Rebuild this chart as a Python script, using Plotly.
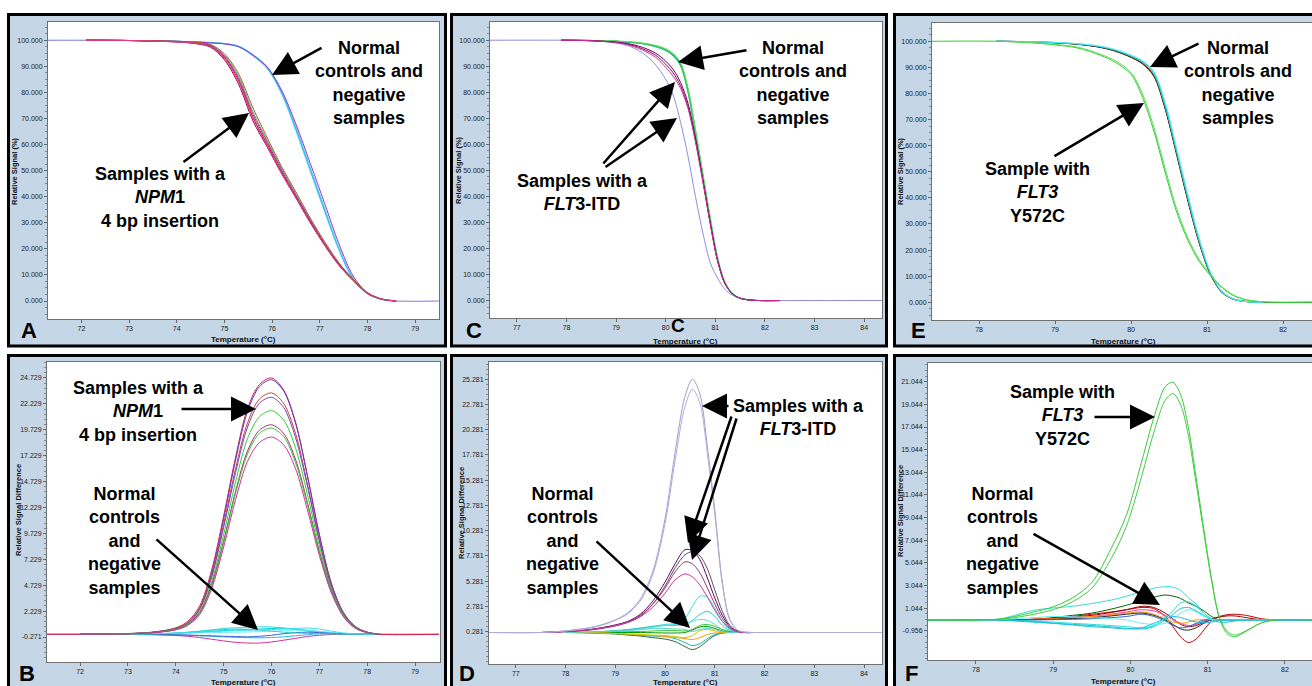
import plotly.graph_objects as go

W, H = 1312, 686

# ======================= DATA =======================
# ---- Panel A: normalized melting curves (Relative Signal %), NPM1 assay
A_temp = [72.1, 73.0, 73.8, 74.3, 74.7, 75.0, 75.3, 75.6, 75.9, 76.2, 76.5, 76.8, 77.1, 77.4, 77.7, 78.0, 78.3, 78.6]
A_ref_temp = [71.3, 72.1, 73.0, 73.8, 74.3, 74.7, 75.0, 75.3, 75.6, 75.9, 76.2, 76.5, 76.8, 77.1, 77.4, 77.7, 78.0, 78.3, 78.6, 79.5]
A_ref = [100, 100, 99.9, 99.7, 99.4, 99.1, 98.7, 97.7, 94.4, 89.7, 80.2, 66.3, 50.8, 35.3, 20.3, 8.7, 2.9, 0.6, 0, 0]
A_normal = [
    [100, 99.9, 99.7, 99.4, 99.1, 98.7, 97.6, 94.3, 89.5, 80.0, 66.0, 50.5, 35.0, 20.0, 8.5, 2.8, 0.6, 0],
    [100, 99.9, 99.7, 99.5, 99.2, 98.8, 97.8, 94.6, 89.9, 80.6, 66.8, 51.3, 35.8, 20.6, 8.9, 3.0, 0.7, 0],
    [100, 99.9, 99.7, 99.4, 99.0, 98.6, 97.4, 94.0, 89.0, 79.4, 65.3, 49.8, 34.4, 19.6, 8.3, 2.7, 0.6, 0],
    [100, 99.9, 99.7, 99.4, 99.0, 98.6, 97.5, 94.2, 89.6, 80.8, 67.8, 52.8, 37.5, 22.0, 9.6, 3.2, 0.7, 0],
]
A_npm1 = [
    [100, 99.9, 99.6, 99.1, 97.9, 93.5, 84.5, 70.5, 60.0, 49.5, 40.0, 30.5, 21.8, 14.0, 8.0, 3.0, 0.7, 0],
    [100, 99.9, 99.5, 98.9, 97.4, 92.5, 83.0, 69.0, 59.0, 48.8, 39.5, 30.0, 21.4, 13.7, 7.8, 2.9, 0.7, 0],
    [100, 99.9, 99.6, 99.2, 98.2, 94.3, 86.0, 72.5, 61.5, 50.8, 41.0, 31.3, 22.3, 14.4, 8.2, 3.1, 0.7, 0],
    [100, 99.9, 99.6, 99.1, 98.0, 93.8, 85.2, 71.5, 60.8, 50.2, 40.5, 30.9, 22.0, 14.2, 8.1, 3.0, 0.7, 0],
    [100, 99.9, 99.7, 99.3, 98.4, 94.8, 87.0, 74.0, 62.5, 51.5, 41.8, 31.8, 22.8, 14.7, 8.4, 3.2, 0.8, 0],
    [100, 99.9, 99.5, 99.0, 97.6, 93.0, 83.8, 70.0, 59.5, 49.0, 39.6, 30.2, 21.6, 13.8, 7.9, 2.9, 0.7, 0],
]

# ---- Panel B: difference curves, NPM1 assay
B_temp = [71.3, 72.0, 73.0, 73.5, 74.0, 74.25, 74.5, 74.75, 75.0, 75.25, 75.5, 75.75, 76.0, 76.25, 76.5, 76.75, 77.0, 77.25, 77.5, 77.75, 78.0, 78.25, 79.5]
B_npm1 = [
    [0, 0, 0.07, 0.2, 0.62, 1.24, 2.72, 6.2, 11.4, 17.1, 21.8, 24.1, 24.73, 23.6, 20.5, 15.3, 9.6, 4.9, 2.1, 0.74, 0.2, 0, 0],
    [None, 0, 0.06, 0.18, 0.55, 1.1, 2.5, 5.9, 11.1, 16.8, 21.5, 23.9, 24.56, 23.5, 20.4, 15.3, 9.6, 4.9, 2.1, 0.74, 0.2, 0, None],
    [None, 0, 0.06, 0.17, 0.55, 1.1, 2.5, 5.7, 10.6, 16.0, 20.4, 22.7, 23.28, 22.3, 19.4, 14.5, 9.1, 4.7, 2.0, 0.7, 0.19, 0, None],
    [None, 0, 0.05, 0.16, 0.5, 1.05, 2.4, 5.5, 10.3, 15.6, 20.0, 22.3, 22.86, 21.9, 19.0, 14.3, 9.0, 4.6, 2.0, 0.7, 0.18, 0, None],
    [None, 0, 0.05, 0.15, 0.5, 1.0, 2.2, 5.1, 9.6, 14.7, 18.9, 21.0, 21.57, 20.7, 18.0, 13.5, 8.5, 4.4, 1.9, 0.66, 0.17, 0, None],
    [None, 0, 0.05, 0.15, 0.48, 0.95, 2.1, 4.8, 9.0, 13.8, 17.7, 19.7, 20.21, 19.4, 16.9, 12.7, 8.0, 4.2, 1.8, 0.62, 0.16, 0, None],
    [None, 0, 0.05, 0.14, 0.46, 0.92, 2.0, 4.6, 8.8, 13.6, 17.4, 19.4, 19.89, 19.1, 16.6, 12.5, 7.9, 4.1, 1.8, 0.6, 0.16, 0, None],
    [None, 0, 0.04, 0.13, 0.42, 0.85, 1.9, 4.4, 8.4, 13.0, 16.7, 18.5, 19.02, 18.3, 16.0, 12.0, 7.6, 4.0, 1.7, 0.58, 0.15, 0, None],
]
B_normal = [
    [None, 0, 0.02, 0.05, 0.12, 0.2, 0.3, 0.42, 0.55, 0.62, 0.68, 0.72, 0.7, 0.6, 0.45, 0.3, 0.18, 0.1, 0.05, 0.02, 0, 0, None],
    [None, 0, 0.01, 0.03, 0.08, 0.14, 0.2, 0.28, 0.35, 0.4, 0.45, 0.5, 0.55, 0.58, 0.5, 0.38, 0.25, 0.14, 0.06, 0.02, 0, 0, None],
    [None, 0, 0, 0.02, 0.05, 0.08, 0.12, 0.15, 0.18, 0.2, 0.22, 0.25, 0.3, 0.35, 0.4, 0.38, 0.28, 0.16, 0.08, 0.03, 0, 0, None],
    [None, 0, -0.01, -0.03, -0.07, -0.1, -0.15, -0.2, -0.25, -0.3, -0.33, -0.35, -0.32, -0.25, -0.15, -0.05, 0.05, 0.08, 0.05, 0.02, 0, 0, None],
    [0, 0, -0.02, -0.05, -0.12, -0.2, -0.32, -0.48, -0.65, -0.78, -0.85, -0.85, -0.75, -0.58, -0.4, -0.22, -0.1, -0.03, 0, 0, 0, 0, 0],
    [None, 0, 0, -0.02, -0.05, -0.08, -0.12, -0.15, -0.2, -0.22, -0.25, -0.2, -0.1, 0.05, 0.15, 0.2, 0.15, 0.08, 0.03, 0, 0, 0, None],
    [None, 0, 0.01, 0.03, 0.1, 0.18, 0.28, 0.38, 0.45, 0.5, 0.48, 0.4, 0.3, 0.2, 0.12, 0.08, 0.05, 0.03, 0.01, 0, 0, 0, None],
    [None, 0, 0.02, 0.05, 0.1, 0.15, 0.2, 0.25, 0.3, 0.35, 0.38, 0.42, 0.45, 0.5, 0.55, 0.6, 0.5, 0.3, 0.12, 0.04, 0, 0, None],
]

# ---- Panel C: normalized melting curves, FLT3-ITD assay
C_temp = [76.46, 77.9, 78.5, 79.0, 79.3, 79.6, 79.8, 80.0, 80.15, 80.3, 80.45, 80.6, 80.75, 80.9, 81.05, 81.2, 81.35, 81.5, 81.7, 81.9, 82.3, 84.36]
C_normal = [
    [None, 100, 99.9, 99.6, 99.2, 98.5, 97.6, 96.2, 94.2, 90.5, 80.5, 64.5, 47.5, 30.5, 15.5, 6.5, 2.6, 0.9, 0.2, 0, 0, None],
    [None, 100, 99.9, 99.6, 99.3, 98.6, 97.8, 96.5, 94.6, 91.0, 81.2, 65.3, 48.3, 31.2, 16.0, 6.8, 2.7, 0.9, 0.2, 0, 0, None],
    [None, 100, 99.9, 99.6, 99.2, 98.6, 97.7, 96.3, 94.4, 90.8, 81.0, 65.0, 48.0, 31.0, 15.8, 6.6, 2.6, 0.9, 0.2, 0, 0, None],
    [None, 100, 99.9, 99.5, 99.1, 98.4, 97.4, 96.0, 94.0, 90.0, 79.8, 63.8, 46.8, 29.8, 15.1, 6.3, 2.5, 0.9, 0.2, 0, 0, None],
    [None, 100, 99.9, 99.6, 99.2, 98.5, 97.6, 96.2, 94.1, 90.3, 80.2, 64.0, 47.0, 30.0, 15.2, 6.4, 2.5, 0.9, 0.2, 0, 0, None],
    [None, 100, 99.9, 99.7, 99.4, 98.8, 98.0, 96.8, 95.0, 91.5, 81.8, 66.0, 49.0, 32.0, 16.4, 7.0, 2.8, 1.0, 0.2, 0, 0, None],
]
C_itd = [
    [None, 100, 99.8, 99.2, 98.2, 96.2, 94.2, 90.8, 87.5, 82.5, 74.5, 61.5, 46.0, 29.5, 15.0, 6.3, 2.5, 0.9, 0.2, 0, 0, None],
    [None, 100, 99.8, 99.3, 98.5, 96.8, 95.0, 92.0, 88.8, 83.8, 75.8, 62.5, 46.5, 30.0, 15.3, 6.4, 2.5, 0.9, 0.2, 0, 0, None],
    [None, 100, 99.8, 99.1, 97.9, 95.6, 93.4, 89.6, 86.2, 81.5, 73.8, 61.0, 45.6, 29.2, 14.8, 6.2, 2.4, 0.9, 0.2, 0, 0, None],
]
C_itd_low = [100, 100, 99.8, 98.9, 97.5, 94.2, 90.5, 85.0, 79.0, 68.5, 55.5, 40.0, 26.0, 14.5, 8.5, 4.2, 2.0, 0.8, 0.2, 0, 0, 0]

# ---- Panel D: difference curves, FLT3-ITD assay
D_temp = [76.46, 77.5, 78.0, 78.5, 78.75, 79.0, 79.25, 79.5, 79.75, 80.0, 80.2, 80.4, 80.55, 80.7, 80.85, 81.0, 81.15, 81.3, 81.45, 81.6, 81.8, 82.2, 84.36]
D_itd_high = [
    [0.2, 0.2, 0.37, 0.7, 1.0, 1.45, 2.15, 3.5, 6.2, 11.5, 18.0, 23.6, 25.28, 23.8, 18.6, 12.3, 5.2, 1.5, 0.45, 0.25, 0.2, 0.2, 0.2],
    [0.2, 0.2, 0.35, 0.65, 0.95, 1.4, 2.05, 3.3, 5.9, 11.0, 17.2, 22.6, 24.29, 22.9, 17.9, 11.8, 5.0, 1.45, 0.45, 0.25, 0.2, 0.2, 0.2],
]
D_itd = [
    [None, 0.2, 0.3, 0.5, 0.7, 0.95, 1.3, 2.0, 3.3, 5.2, 7.0, 8.4, 8.3, 7.4, 5.6, 3.6, 1.9, 0.8, 0.35, 0.2, 0.2, 0.2, None],
    [None, 0.2, 0.28, 0.45, 0.62, 0.85, 1.2, 1.8, 3.0, 4.8, 6.6, 7.9, 8.2, 7.8, 6.5, 4.4, 2.3, 0.9, 0.35, 0.2, 0.2, 0.2, None],
    [None, 0.2, 0.3, 0.5, 0.68, 0.92, 1.25, 1.9, 3.0, 4.6, 6.2, 7.2, 7.0, 6.1, 4.6, 3.0, 1.6, 0.7, 0.3, 0.2, 0.2, 0.2, None],
    [None, 0.2, 0.3, 0.48, 0.65, 0.88, 1.2, 1.75, 2.7, 4.1, 5.4, 6.0, 5.7, 4.9, 3.7, 2.4, 1.3, 0.6, 0.28, 0.2, 0.2, 0.2, 0.2],
]
D_normal = [
    [None, None, 0.2, 0.25, 0.3, 0.35, 0.45, 0.6, 0.8, 1.0, 1.1, 1.6, 2.8, 3.8, 3.7, 2.6, 1.3, 0.5, 0.25, 0.2, 0.2, 0.2, None],
    [None, None, 0.2, 0.25, 0.3, 0.4, 0.5, 0.65, 0.8, 0.9, 0.9, 1.0, 1.4, 2.0, 2.3, 1.8, 0.9, 0.4, 0.22, 0.2, 0.2, 0.2, None],
    [None, None, 0.2, 0.22, 0.25, 0.3, 0.4, 0.5, 0.7, 0.9, 1.0, 1.1, 1.3, 1.5, 1.4, 1.0, 0.5, 0.3, 0.2, 0.2, 0.2, 0.2, None],
    [None, None, 0.2, 0.2, 0.22, 0.25, 0.28, 0.3, 0.35, 0.4, 0.4, 0.35, 0.5, 0.9, 1.0, 0.8, 0.5, 0.3, 0.2, 0.2, 0.2, 0.2, None],
    [None, None, 0.2, 0.2, 0.2, 0.2, 0.2, 0.2, 0.18, 0.15, 0.15, 0.2, 0.45, 0.75, 0.8, 0.6, 0.35, 0.22, 0.2, 0.2, 0.2, 0.2, None],
    [None, None, 0.2, 0.15, 0.1, 0.05, -0.05, -0.15, -0.3, -0.45, -0.7, -1.2, -1.5, -1.2, -0.6, -0.1, 0.15, 0.2, 0.2, 0.2, 0.2, 0.2, None],
    [None, None, 0.2, 0.18, 0.15, 0.1, 0.0, -0.1, -0.15, -0.2, -0.4, -0.8, -1.1, -0.9, -0.4, 0.0, 0.15, 0.2, 0.2, 0.2, 0.2, 0.2, None],
    [None, None, 0.2, 0.18, 0.15, 0.1, 0.05, 0.0, -0.1, -0.2, -0.3, -0.4, -0.5, -0.3, 0.0, 0.15, 0.2, 0.2, 0.2, 0.2, 0.2, 0.2, None],
    [None, None, 0.2, 0.2, 0.15, 0.1, 0.05, 0.0, -0.05, -0.1, -0.2, -0.3, -0.1, 0.4, 0.5, 0.35, 0.25, 0.2, 0.2, 0.2, 0.2, 0.2, None],
    [None, None, 0.2, 0.25, 0.3, 0.35, 0.4, 0.5, 0.6, 0.6, 0.55, 0.5, 0.3, 0.5, 0.6, 0.5, 0.3, 0.2, 0.2, 0.2, 0.2, 0.2, None],
]

# ---- Panel E: normalized melting curves, FLT3 Y572C assay
E_temp = [77.38, 78.23, 78.7, 79.0, 79.3, 79.6, 79.8, 80.0, 80.15, 80.3, 80.45, 80.6, 80.75, 80.9, 81.05, 81.2, 81.35, 81.5, 81.75, 82.38]
E_normal = [
    [None, 100, 99.8, 99.4, 98.9, 97.7, 96.2, 93.9, 91.5, 86.8, 74.2, 56.8, 38.8, 22.5, 10.4, 3.7, 1.1, 0.3, 0, 0],
    [None, 100, 99.8, 99.4, 98.8, 97.6, 96.1, 93.8, 91.3, 86.5, 73.8, 56.3, 38.4, 22.2, 10.2, 3.6, 1.1, 0.3, 0, None],
    [None, 100, 99.8, 99.5, 98.9, 97.8, 96.3, 94.0, 91.7, 87.0, 74.5, 57.0, 39.0, 22.8, 10.6, 3.9, 1.3, 0.4, 0, None],
    [None, 100, 99.8, 99.5, 99.0, 97.9, 96.5, 94.3, 92.0, 87.5, 75.0, 57.5, 39.5, 23.0, 10.7, 3.8, 1.2, 0.3, 0, None],
    [None, 100, 99.8, 99.5, 99.0, 98.0, 96.6, 94.5, 92.3, 88.0, 75.8, 58.3, 40.3, 23.7, 11.0, 3.9, 1.2, 0.3, 0, None],
    [None, 100, 99.8, 99.6, 99.1, 98.1, 96.8, 94.7, 92.6, 88.4, 76.5, 59.0, 41.0, 24.2, 11.3, 4.0, 1.2, 0.3, 0, None],
]
E_y572c = [
    [100, 100, 99.4, 98.6, 97.4, 94.6, 91.8, 87.3, 78.5, 65.5, 49.5, 34.5, 23.5, 15.5, 10.0, 5.5, 2.5, 1.0, 0.1, 0],
    [None, 100, 99.5, 98.8, 97.7, 95.0, 92.4, 88.0, 79.8, 67.0, 51.0, 35.8, 24.5, 16.2, 10.4, 5.8, 2.7, 1.1, 0.1, None],
]

# ---- Panel F: difference curves, FLT3 Y572C assay
F_temp = [77.38, 78.25, 78.5, 78.75, 79.0, 79.25, 79.5, 79.75, 79.95, 80.15, 80.3, 80.45, 80.55, 80.65, 80.75, 80.85, 80.95, 81.05, 81.15, 81.25, 81.35, 81.5, 81.7, 81.9, 82.38]
F_y572c = [
    [0, 0.05, 0.3, 0.7, 1.15, 1.95, 3.3, 6.3, 9.3, 14.1, 17.8, 20.6, 21.0, 19.9, 17.0, 12.6, 8.0, 3.6, 0.2, -1.2, -1.5, -1.0, -0.25, 0, 0],
    [0, 0.03, 0.2, 0.5, 0.9, 1.6, 2.8, 5.4, 8.3, 12.8, 16.5, 19.4, 20.0, 19.0, 16.3, 12.1, 7.7, 3.5, 0.3, -1.0, -1.35, -0.95, -0.25, 0, 0],
]
F_normal = [
    [0, 0, 0, 0.05, 0.2, 0.4, 0.6, 0.95, 1.3, 1.7, 2.0, 2.2, 2.1, 1.9, 1.5, 1.2, 0.8, 0.3, 0, 0, 0, 0, 0, 0, 0],
    [0, 0, 0, 0.05, 0.1, 0.3, 0.5, 0.7, 0.9, 1.1, 1.0, 0.3, -0.6, -1.5, -2.0, -1.7, -0.9, -0.1, 0.3, 0.45, 0.5, 0.4, 0.1, 0, 0],
    [0, 0, 0, 0.05, 0.15, 0.25, 0.4, 0.65, 0.9, 1.2, 1.1, 0.6, 0.1, -0.4, -0.6, -0.5, -0.2, 0.1, 0.25, 0.35, 0.35, 0.2, 0, 0, 0],
    [0, 0, 0, 0.05, 0.1, 0.2, 0.3, 0.5, 0.7, 0.9, 0.8, 0.4, 0.0, -0.3, -0.5, -0.4, -0.1, 0, 0, 0, 0, 0, 0, 0, 0],
    [0, 0, 0, 0.05, 0.1, 0.2, 0.3, 0.45, 0.6, 0.7, 0.5, 0.1, -0.2, -0.3, -0.2, 0, 0, 0, 0, 0, 0, 0, 0, 0, 0],
    [0, 0, 0, 0.02, 0.05, 0.12, 0.2, 0.35, 0.5, 0.6, 0.4, 0.0, -0.4, -0.8, -0.9, -0.7, -0.3, 0, 0, 0, 0, 0, 0, 0, 0],
    [0, 0, 0, 0, 0.02, 0.05, 0.1, 0.2, 0.3, 0.5, 0.3, -0.1, -0.5, -0.7, -0.6, -0.3, 0, 0, 0, 0, 0, 0, 0, 0, 0],
    [0, 0, 0.4, 0.85, 1.05, 1.2, 1.45, 1.75, 2.1, 2.5, 2.8, 2.93, 2.9, 2.6, 1.95, 1.4, 0.6, 0.1, 0, 0, 0, 0, 0, 0, 0],
    [0, 0, -0.05, -0.1, -0.2, -0.3, -0.4, -0.5, -0.6, -0.7, -0.5, 0.2, 0.8, 1.5, 1.6, 1.2, 0.6, 0.1, 0, 0, 0, 0, 0, 0, 0],
    [0, 0, -0.1, -0.2, -0.3, -0.4, -0.5, -0.62, -0.75, -0.8, -0.6, 0.0, 0.5, 1.0, 1.1, 0.8, 0.4, 0.0, -0.2, -0.2, -0.1, 0, 0, 0, 0],
    [0, 0, 0.1, 0.2, 0.3, 0.28, 0.2, 0.1, 0.0, -0.3, -0.4, -0.3, 0.1, 0.6, 0.9, 0.7, 0.3, 0, 0, 0, 0, 0, 0, 0, 0],
    [0, 0, -0.05, -0.15, -0.3, -0.45, -0.6, -0.7, -0.8, -0.7, -0.3, 0.1, 0.3, 0.2, 0.0, -0.2, -0.25, -0.2, 0, 0, 0, 0, 0, 0, 0],
]

# ---- tick values
A_xticks = [72, 73, 74, 75, 76, 77, 78, 79]
C_xticks = [77, 78, 79, 80, 81, 82, 83, 84]
E_xticks = [78, 79, 80, 81, 82]
melt_yticks = [0, 10, 20, 30, 40, 50, 60, 70, 80, 90, 100]
B_yticks = [-0.271, 2.229, 4.729, 7.229, 9.729, 12.229, 14.729, 17.229, 19.729, 22.229, 24.729]
D_yticks = [0.281, 2.781, 5.281, 7.781, 10.281, 12.781, 15.281, 17.781, 20.281, 22.781, 25.281]
F_yticks = [-0.956, 1.044, 3.044, 5.044, 7.044, 9.044, 11.044, 13.044, 15.044, 17.044, 19.044, 21.044]

# ======================= STYLE / LAYOUT =======================
PANEL_BG = '#c5d6e6'
TICKFONT = dict(family='Liberation Sans, Arial', size=7, color='#222')
BIG = 'Liberation Sans, Arial, sans-serif'

fig = go.Figure()


def add_group(xs, groups, colors, n, width=1.0):
    key = '' if n == 1 else str(n)
    for ys, c in zip(groups, colors):
        fig.add_trace(go.Scatter(
            x=xs, y=ys, mode='lines',
            line=dict(color=c, width=width, shape='spline', smoothing=0.9),
            xaxis='x' + key, yaxis='y' + key, showlegend=False, hoverinfo='skip'))


# Panel A
add_group(A_ref_temp, [A_ref], ['#7b7be0'], 1)
add_group(A_temp, A_normal, ['#3399ff', '#66ddf0', '#33ccee', '#9933cc'], 1)
add_group(A_temp, A_npm1, ['#cc0066', '#990033', '#44bb44', '#993399', '#aa5533', '#ee3388'], 1)
# Panel B
add_group(B_temp, B_normal, ['#33dddd', '#00cccc', '#66eeee', '#22bbdd', '#cc3399', '#3366cc', '#33cccc', '#44ddee'], 2)
add_group(B_temp, B_npm1, ['#cc2244', '#6633cc', '#bb4433', '#7744bb', '#33cc33', '#993366', '#44bb44', '#cc3399'], 2)
# Panel C
add_group(C_temp, [C_itd_low], ['#8c8ce0'], 3)
add_group(C_temp, C_normal, ['#333333', '#99cc00', '#00aaaa', '#33ddee', '#33cc33', '#66dd66'], 3)
add_group(C_temp, C_itd, ['#990066', '#660066', '#cc3399'], 3)
# Panel D
add_group(D_temp, D_normal, ['#33dddd', '#22cccc', '#55e0e0', '#33cc33', '#009900', '#336633', '#00bbbb', '#ff9900', '#cccc00', '#66cccc'], 4)
add_group(D_temp, D_itd, ['#660066', '#555555', '#993377', '#cc3399'], 4)
add_group(D_temp, D_itd_high, ['#9c9cd8', '#b4acd4'], 4)
# Panel E
add_group(E_temp, E_normal, ['#006600', '#222222', '#993300', '#33ddee', '#00cccc', '#66eeff'], 5)
add_group(E_temp, E_y572c, ['#33cc33', '#55dd55'], 5)
# Panel F
add_group(F_temp, F_normal, ['#006600', '#cc0000', '#990000', '#ff3399', '#ff9900', '#222222', '#3366cc', '#33dddd', '#22dddd', '#00cccc', '#66eeee', '#22bbdd'], 6)
add_group(F_temp, F_y572c, ['#33cc33', '#44cc44'], 6)

layout = dict(width=W, height=H, margin=dict(l=0, r=0, t=0, b=0), autosize=False,
              paper_bgcolor='white', plot_bgcolor='rgba(0,0,0,0)', showlegend=False)

# panel definitions: (index, x pixel domain, y pixel domain, x range, y range, xticks, yticks, minor tick0/dtick, mirror y)
panels = [
    (1, (48, 439), (22, 319), (71.3, 79.5), (-6.9, 107.0), A_xticks, melt_yticks, (0, 2.5), True),
    (2, (47, 440), (362, 662), (71.31, 79.52), (-2.68, 26.27), A_xticks, B_yticks, (-0.271, 0.5), True),
    (3, (490, 882), (22, 318), (76.46, 84.36), (-6.7, 107.0), C_xticks, melt_yticks, (0, 2.5), True),
    (4, (489, 882), (362, 664), (76.46, 84.36), (-2.92, 26.99), C_xticks, D_yticks, (0.281, 0.5), True),
    (5, (932, 1312), (23, 320), (77.38, 82.38), (-6.8, 107.0), E_xticks, melt_yticks, (0, 2.5), False),
    (6, (928, 1312), (363, 660), (77.38, 82.35), (-3.545, 22.70), E_xticks, F_yticks, (-0.956, 0.5), False),
]

shapes = []
# outer panel frames
frames = [(8.5, 14.5, 445.5, 346), (451.5, 14.5, 886.5, 346), (894.5, 14.5, 1320, 346),
          (8.5, 355.5, 445.5, 700), (451.5, 355.5, 886.5, 700), (894.5, 355.5, 1320, 700)]
for x0, y0, x1, y1 in frames:
    shapes.append(dict(type='rect', xref='paper', yref='paper', x0=x0 / W, x1=x1 / W,
                       y0=1 - y1 / H, y1=1 - y0 / H, fillcolor=PANEL_BG,
                       line=dict(color='black', width=3), layer='below'))

for n, xd, yd, xr, yr, xt, yt, mn, mir in panels:
    key = '' if n == 1 else str(n)
    shapes.append(dict(type='rect', xref='paper', yref='paper', x0=xd[0] / W, x1=xd[1] / W,
                       y0=1 - yd[1] / H, y1=1 - yd[0] / H, fillcolor='white',
                       line=dict(width=0), layer='below'))
    layout['xaxis' + key] = dict(domain=[xd[0] / W, xd[1] / W], range=list(xr), anchor='y' + key,
                                 tickmode='array', tickvals=xt, ticktext=[str(t) for t in xt],
                                 ticks='outside', ticklen=3, tickcolor='#666', showline=True,
                                 mirror=True, linecolor='#707070', linewidth=1, showgrid=False,
                                 zeroline=False, tickfont=TICKFONT, fixedrange=True)
    layout['yaxis' + key] = dict(domain=[1 - yd[1] / H, 1 - yd[0] / H], range=list(yr), anchor='x' + key,
                                 tickmode='array', tickvals=yt, ticktext=['%.3f' % v for v in yt],
                                 ticks='outside', ticklen=3, tickcolor='#666', showline=True,
                                 mirror=mir, linecolor='#707070', linewidth=1, showgrid=False,
                                 zeroline=False, tickfont=TICKFONT, fixedrange=True,
                                 minor=dict(ticks='outside', ticklen=2, tickcolor='#888',
                                            tick0=mn[0], dtick=mn[1], showgrid=False))

layout['shapes'] = shapes

ann = []


def text(x, y, s, size=18, family=BIG, angle=0, color='black'):
    ann.append(dict(x=x / W, y=1 - y / H, xref='paper', yref='paper', text=s, showarrow=False,
                    font=dict(family=family, size=size, color=color), xanchor='center',
                    yanchor='middle', align='center', textangle=angle))


def arrow(tail, head):
    tx, ty = tail
    hx, hy = head
    ann.append(dict(x=hx / W, y=1 - hy / H, xref='paper', yref='paper', ax=tx - hx, ay=ty - hy,
                    axref='pixel', ayref='pixel', text='', showarrow=True, arrowhead=2,
                    arrowsize=2.0, arrowwidth=2.5, arrowcolor='black', standoff=0))


NORMAL4 = '<b>Normal<br>controls and<br>negative<br>samples</b>'
NORMAL5 = '<b>Normal<br>controls<br>and<br>negative<br>samples</b>'

# Panel A
text(369, 83, NORMAL4)
arrow((323, 47), (272, 75))
text(160, 198, '<b>Samples with a<br><i>NPM</i>1<br>4 bp insertion</b>')
arrow((182, 163), (249, 113))
# Panel B
text(138, 412, '<b>Samples with a<br><i>NPM</i>1<br>4 bp insertion</b>')
arrow((180, 409), (256, 409))
text(124, 541, NORMAL5)
arrow((155, 538), (258, 630))
# Panel C
text(793, 83, NORMAL4)
arrow((748, 50), (678, 62))
text(582, 192, '<b>Samples with a<br><i>FLT</i>3-ITD</b>')
arrow((602, 165), (675, 82))
arrow((604, 168), (677, 118))
# Panel D
text(798, 417, '<b>Samples with a<br><i>FLT</i>3-ITD</b>')
arrow((730, 406), (702, 406))
arrow((732, 415), (688, 543))
arrow((737, 417), (692, 560))
text(562, 541, NORMAL5)
arrow((595, 540), (690, 628))
# Panel E
text(1238, 83, NORMAL4)
arrow((1200, 43), (1150, 67))
text(1037, 192, '<b>Sample with<br><i>FLT3</i><br>Y572C</b>')
arrow((1053, 157), (1144, 103))
# Panel F
text(1062, 415, '<b>Sample with<br><i>FLT3</i><br>Y572C</b>')
arrow((1093, 417), (1155, 417))
text(1002, 541, NORMAL5)
arrow((1032, 533), (1160, 605))

# panel letters
for (x, y, s, sz) in [(29, 330, 'A', 22), (27, 673, 'B', 22), (474, 330, 'C', 22), (678, 325, 'C', 19),
                      (467, 673, 'D', 22), (918, 330, 'E', 22), (912, 673, 'F', 22)]:
    text(x, y, '<b>%s</b>' % s, size=sz)

# axis titles
for (x, y) in [(243, 339), (685, 341), (1123, 341), (243, 682), (685, 682), (1123, 681)]:
    text(x, y, '<b>Temperature (°C)</b>', size=8, color='#111')
for (x, y) in [(15, 171), (458, 170), (901, 171)]:
    text(x, y, '<b>Relative Signal (%)</b>', size=7.5, angle=-90, color='#111')
for (x, y) in [(18, 510), (461, 513), (900, 511)]:
    text(x, y, '<b>Relative Signal Difference</b>', size=7.5, angle=-90, color='#111')

layout['annotations'] = ann
fig.update_layout(**layout)
fig.write_html('out.html', config={'displayModeBar': False},
               post_script="document.body.style.margin='0px';document.body.style.overflow='hidden';")
